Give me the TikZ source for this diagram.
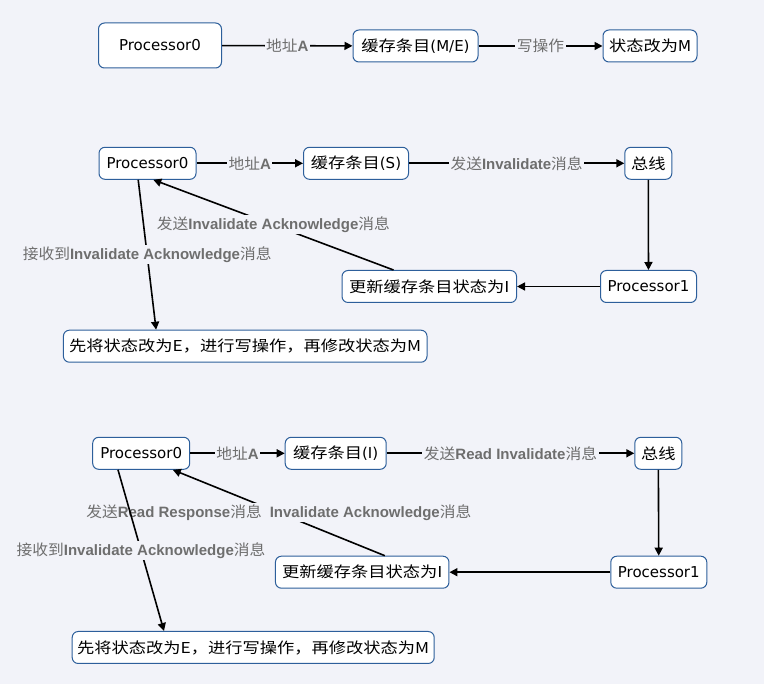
\documentclass[tikz,border=0pt]{standalone}
\usepackage{fontspec}
\setmainfont{DejaVu Sans}
\newfontfamily\zhfont[FakeStretch=1.15]{Noto Sans CJK SC}
\newfontfamily\zlfont[FakeStretch=1.05]{Noto Sans CJK SC}
\newfontfamily\lbfont{Liberation Sans}
\newcommand\zh[1]{{\zhfont #1}}
\newcommand\zl[1]{{\mdseries\zlfont #1}}
\usetikzlibrary{arrows.meta}
\definecolor{bgc}{RGB}{242,243,249}
\definecolor{boxline}{RGB}{45,95,155}
\definecolor{lblgray}{RGB}{110,110,110}

\begin{document}
\begin{tikzpicture}[
      x=1pt,y=-1pt,
      dep/.style={-{Triangle[length=8pt,width=8pt]},draw=black,line width=1.6pt},
      box/.style={draw=boxline,fill=white,rounded corners=6pt,line width=1pt,
        inner sep=0pt,align=center,font=\fontsize{15}{18}\selectfont,minimum height=32pt},
      lbl/.style={fill=bgc,inner sep=1.5pt,text=lblgray,
        font=\lbfont\bfseries\fontsize{15}{18}\selectfont}]
    \fill[bgc] (0,0) rectangle (764,684);
    \useasboundingbox (0,0) rectangle (764,684);

    % write hit
    \node[box,minimum width=123pt,minimum height=45pt] (p0a) at (160,45.5) {Processor0};
    \node[box,minimum width=125pt] (ca) at (415.5,46) {\zh{缓存条目}(M/E)};
    \node[box,minimum width=94pt]  (sa) at (650,46) {\zh{状态改为}M};

    % shared
    \node[box,minimum width=97pt]  (p0b) at (147.5,163.3) {Processor0};
    \node[box,minimum width=105pt] (cb)  at (356,163.3) {\zh{缓存条目}(S)};
    \node[box,minimum width=47pt]  (busb) at (648.3,163.3) {\zh{总线}};
    \node[box,minimum width=96pt]  (p1b) at (648.5,286.5) {Processor1};
    \node[box,minimum width=174.5pt] (ub) at (429.3,286.5) {\zh{更新缓存条目状态为I}};
    \node[box,minimum width=363.6pt] (wb) at (245.2,346.2) {\zh{先将状态改为E，进行写操作，再修改状态为M}};

    % invalid
    \node[box,minimum width=97pt]  (p0c) at (141.2,453.3) {Processor0};
    \node[box,minimum width=101pt] (cc)  at (335.7,453.3) {\zh{缓存条目}(I)};
    \node[box,minimum width=47pt]  (busc) at (658.3,453.3) {\zh{总线}};
    \node[box,minimum width=96pt]  (p1c) at (658.8,572.2) {Processor1};
    \node[box,minimum width=173.5pt] (uc) at (362.2,572.2) {\zh{更新缓存条目状态为I}};
    \node[box,minimum width=362pt] (wc) at (253.2,647.5) {\zh{先将状态改为E，进行写操作，再修改状态为M}};

    \draw[dep] (p0a) -- node[lbl] {\zl{地址}A} (ca);
    \draw[dep] (ca) -- node[lbl] {\zl{写操作}} (sa);

    \draw[dep] (p0b) -- node[lbl] {\zl{地址}A} (cb);
    \draw[dep] (cb) -- node[lbl] {\zl{发送}Invalidate\zl{消息}} (busb);
    \draw[dep] (busb) -- (p1b);
    \draw[dep] (p1b) -- (ub);
    \draw[dep] ([xshift=-35.8pt]ub.north) -- node[lbl] {\zl{发送}Invalidate Acknowledge\zl{消息}} ([xshift=5.8pt]p0b.south);
    \draw[dep] ([xshift=-9.3pt]p0b.south) -- node[lbl] {\zl{接收到}Invalidate Acknowledge\zl{消息}} ([xshift=-89.1pt]wb.north);

    \draw[dep] (p0c) -- node[lbl] {\zl{地址}A} (cc);
    \draw[dep] (cc) -- node[lbl] {\zl{发送}Read Invalidate\zl{消息}} (busc);
    \draw[dep] (busc) -- (p1c);
    \draw[dep] (p1c) -- (uc);
    \draw[dep] ([xshift=22.6pt]uc.north) -- node[lbl] {\zl{发送}Read Response\zl{消息}\hspace{8pt}Invalidate Acknowledge\zl{消息}} ([xshift=31.6pt]p0c.south);
    \draw[dep] ([xshift=-23.2pt]p0c.south) -- node[lbl] {\zl{接收到}Invalidate Acknowledge\zl{消息}} ([xshift=-89.2pt]wc.north);
  \end{tikzpicture}
\end{document}
